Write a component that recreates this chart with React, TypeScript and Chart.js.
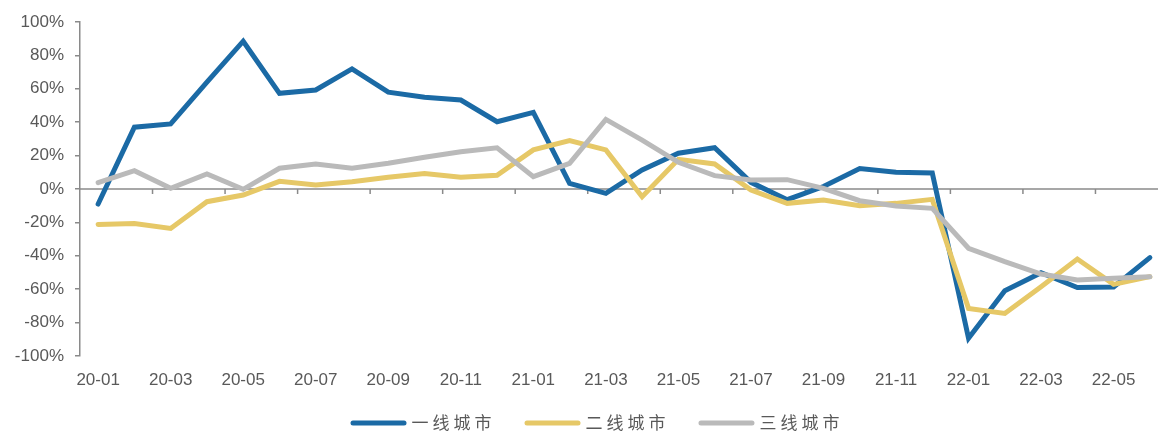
import React, { useEffect, useRef } from "react";
import { Chart, registerables } from "chart.js";

Chart.register(...registerables);

const months = [
  "20-01", "20-02", "20-03", "20-04", "20-05", "20-06", "20-07", "20-08", "20-09", "20-10", "20-11", "20-12",
  "21-01", "21-02", "21-03", "21-04", "21-05", "21-06", "21-07", "21-08", "21-09", "21-10", "21-11", "21-12",
  "22-01", "22-02", "22-03", "22-04", "22-05", "22-06",
];

const tier1 = [
  -9, 37, 39, 64, 88.5, 57.3, 59.3, 71.9, 58, 54.9, 53.3, 40.3,
  45.9, 3.4, -2.6, 11.4, 21.4, 24.7, 4, -6.4, 1.5, 12.2, 10, 9.6,
  -89.4, -60.9, -50.1, -59, -58.7, -41.1,
];

const tier2 = [
  -21.2, -20.6, -23.6, -7.6, -3.6, 4.6, 2.4, 4.4, 7, 9.2, 7, 8.2,
  23.4, 29, 23.4, -4.6, 17.8, 15, -0.6, -8.6, -6.6, -10, -8.6, -6.2,
  -71.5, -74.5, -58.5, -41.9, -57.1, -52.5,
];

const tier3 = [
  3.8, 11, 0.4, 9, -0.2, 12.4, 15, 12.4, 15.4, 19, 22.3, 24.7,
  7.4, 15.4, 41.7, 29.3, 16, 8, 5.4, 5.6, 0.4, -7, -10.2, -11.6,
  -35.5, -43.5, -50.9, -54.5, -53.5, -52.5,
];

const seriesNames = ["一线城市", "二线城市", "三线城市"];
const seriesColors = ["#1B6AA5", "#E6C867", "#BABABA"];

const AXIS_COLOR = "#8A8A8A";
const TEXT_COLOR = "#595959";
const TICK_FONT = '"Liberation Sans", Arial, sans-serif';
const CJK_FONT = '"Noto Sans CJK SC", sans-serif';

const CANVAS_W = 1168;
const VIEW_W = 1158;
const H = 432;

const zeroAxisPlugin = {
  id: "zeroAxis",
  beforeDatasetsDraw(chart: any) {
    const { ctx, chartArea, scales } = chart;
    const x = scales.x;
    const y = scales.y;
    const y0 = y.getPixelForValue(0);
    const step = x.width / months.length;
    ctx.save();
    ctx.strokeStyle = AXIS_COLOR;
    ctx.lineWidth = 1.5;
    ctx.beginPath();
    ctx.moveTo(chartArea.left, y0);
    ctx.lineTo(chartArea.right, y0);
    ctx.stroke();
    ctx.beginPath();
    for (let k = 2; k < months.length; k += 2) {
      const px = x.getPixelForValue(k) - step / 2;
      ctx.moveTo(px, y0);
      ctx.lineTo(px, y0 + 5);
    }
    ctx.stroke();
    ctx.restore();
  },
};

const bottomLegendPlugin = {
  id: "bottomLegend",
  afterDraw(chart: any) {
    const { ctx, height } = chart;
    const sampleW = 56;
    const gapText = 5;
    const gapItems = 29;
    ctx.save();
    ctx.font = `17px ${CJK_FONT}`;
    (ctx as any).letterSpacing = "4px";
    ctx.textBaseline = "middle";
    ctx.textAlign = "left";
    const widths = seriesNames.map((n) => sampleW + gapText + ctx.measureText(n).width);
    const total = widths.reduce((a, b) => a + b, 0) + gapItems * (widths.length - 1);
    let x = VIEW_W / 2 + 18 - total / 2;
    const yc = height - 9;
    seriesNames.forEach((name, i) => {
      ctx.strokeStyle = seriesColors[i];
      ctx.lineWidth = 5;
      ctx.lineCap = "round";
      ctx.beginPath();
      ctx.moveTo(x + 2.5, yc);
      ctx.lineTo(x + sampleW - 2.5, yc);
      ctx.stroke();
      ctx.fillStyle = TEXT_COLOR;
      ctx.fillText(name, x + sampleW + gapText, yc);
      x += widths[i] + gapItems;
    });
    ctx.restore();
  },
};

export default function App() {
  const ref = useRef<HTMLCanvasElement | null>(null);

  useEffect(() => {
    if (!ref.current) return;
    const data = [tier1, tier2, tier3];
    const chart = new Chart(ref.current, {
      type: "line",
      data: {
        labels: months,
        datasets: data.map((d, i) => ({
          label: seriesNames[i],
          data: d,
          borderColor: seriesColors[i],
          backgroundColor: seriesColors[i],
          borderWidth: 5,
          pointRadius: 0,
          tension: 0,
          borderCapStyle: "round" as const,
          order: 3 - i,
        })),
      },
      options: {
        animation: false,
        responsive: false,
        maintainAspectRatio: false,
        layout: { padding: { left: 0, right: 0, top: 22, bottom: 36 } },
        plugins: {
          legend: { display: false },
          tooltip: { enabled: false },
        },
        scales: {
          x: {
            type: "category",
            offset: true,
            grid: { display: false, drawTicks: false },
            border: { display: false },
            ticks: {
              autoSkip: false,
              maxRotation: 0,
              padding: 14,
              color: TEXT_COLOR,
              font: { family: TICK_FONT, size: 17 },
              callback: (_v: any, i: number) => (i % 2 === 0 ? months[i] : ""),
            },
            afterFit: (s: any) => {
              s.height = 40;
            },
          },
          y: {
            min: -100,
            max: 100,
            ticks: {
              stepSize: 20,
              padding: 11,
              color: TEXT_COLOR,
              font: { family: TICK_FONT, size: 17 },
              callback: (v: any) => `${v}%`,
            },
            grid: {
              display: true,
              drawOnChartArea: false,
              drawTicks: true,
              tickLength: 5,
              color: AXIS_COLOR,
              lineWidth: 1.5,
            },
            border: { display: true, color: AXIS_COLOR, width: 1.5 },
            afterFit: (s: any) => {
              s.width = 80;
            },
          },
        },
      },
      plugins: [zeroAxisPlugin, bottomLegendPlugin],
    });
    return () => chart.destroy();
  }, []);

  return (
    <div style={{ position: "fixed", left: 0, top: 0, width: VIEW_W, height: H, overflow: "hidden", background: "#fff" }}>
      <canvas ref={ref} width={CANVAS_W} height={H} style={{ width: CANVAS_W, height: H, display: "block" }} />
    </div>
  );
}
